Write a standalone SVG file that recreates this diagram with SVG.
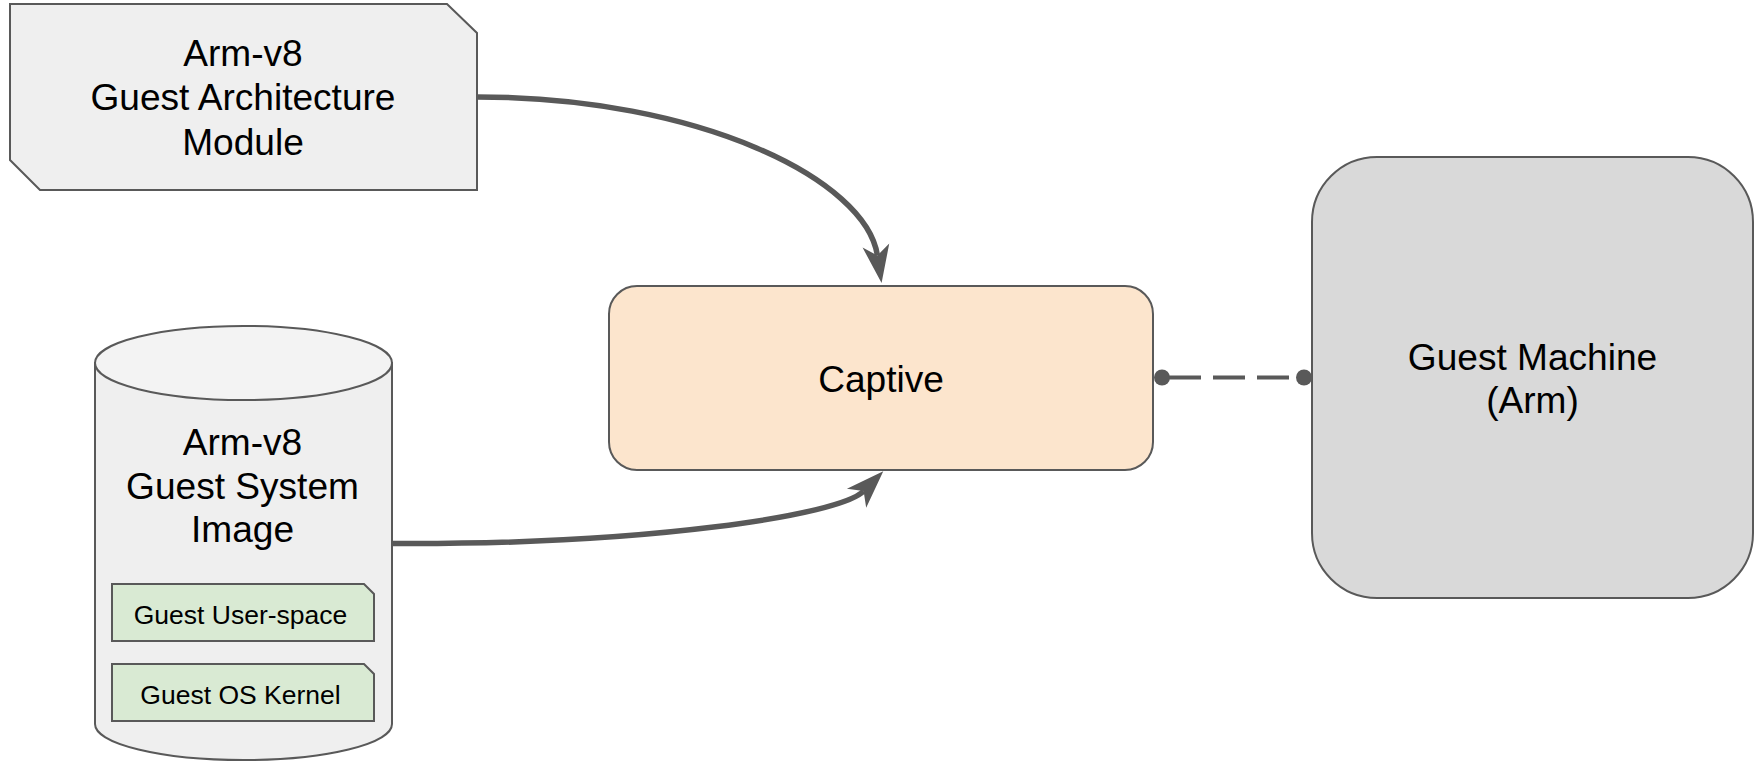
<svg xmlns="http://www.w3.org/2000/svg" width="1756" height="761" viewBox="0 0 1756 761">
<style>
.lbl{font-family:"Liberation Sans",Arial,sans-serif;fill:#000;text-anchor:middle}
.big{font-size:37.1px}
.small{font-size:26.5px}
.outline{stroke:#595959;stroke-width:2}
.conn{fill:none;stroke:#595959;stroke-width:5.5}
</style>
<defs>
<marker id="stealth" markerUnits="userSpaceOnUse" viewBox="-12 -16 44 32" markerWidth="44" markerHeight="32" refX="0" refY="0" orient="auto">
<path d="M28,0 L-10,-13.5 L0,0 L-10,13.5 Z" fill="#595959"/>
</marker>
</defs>
<g id="connectors">
<path class="conn" d="M477,97 C700,97 866,180 877.4,255.4" marker-end="url(#stealth)"/>
<path class="conn" d="M392,543.5 C650,545 840,515 863.6,491.1" marker-end="url(#stealth)"/>
<line x1="1169" y1="377.5" x2="1304" y2="377.5" stroke="#595959" stroke-width="4" stroke-dasharray="32 12"/>
<circle cx="1162" cy="377.5" r="8" fill="#595959"/>
<circle cx="1304" cy="377.5" r="8" fill="#595959"/>
</g>
<g id="arch-module">
<polygon class="outline" points="10,4 447,4 477,33 477,190 40,190 10,160" fill="#efefef"/>
<text class="lbl big" x="243" y="65.5">Arm-v8</text>
<text class="lbl big" x="243" y="110">Guest Architecture</text>
<text class="lbl big" x="243" y="154.5">Module</text>
</g>
<g id="system-image">
<path class="outline" d="M95,363 L95,724 A148.5,36 0 0 0 392,724 L392,363 Z" fill="#efefef"/>
<ellipse class="outline" cx="243.5" cy="363" rx="148.5" ry="37" fill="#f3f3f3"/>
<text class="lbl big" x="242.5" y="455">Arm-v8</text>
<text class="lbl big" x="242.5" y="498.5">Guest System</text>
<text class="lbl big" x="242.5" y="542">Image</text>
<g id="user-space">
<polygon class="outline" points="112,584 364,584 374,594 374,641 112,641" fill="#d9ead3"/>
<text class="lbl small" x="240.5" y="624">Guest User-space</text>
</g>
<g id="os-kernel">
<polygon class="outline" points="112,664 364,664 374,674 374,721 112,721" fill="#d9ead3"/>
<text class="lbl small" x="240.5" y="704">Guest OS Kernel</text>
</g>
</g>
<g id="captive">
<rect class="outline" x="609" y="286" width="544" height="184" rx="28" ry="28" fill="#fce5cd"/>
<text class="lbl big" x="881" y="392">Captive</text>
</g>
<g id="guest-machine">
<rect class="outline" x="1312" y="157" width="441" height="441" rx="65" ry="65" fill="#d9d9d9"/>
<text class="lbl big" x="1532.5" y="370">Guest Machine</text>
<text class="lbl big" x="1532.5" y="413">(Arm)</text>
</g>
</svg>
